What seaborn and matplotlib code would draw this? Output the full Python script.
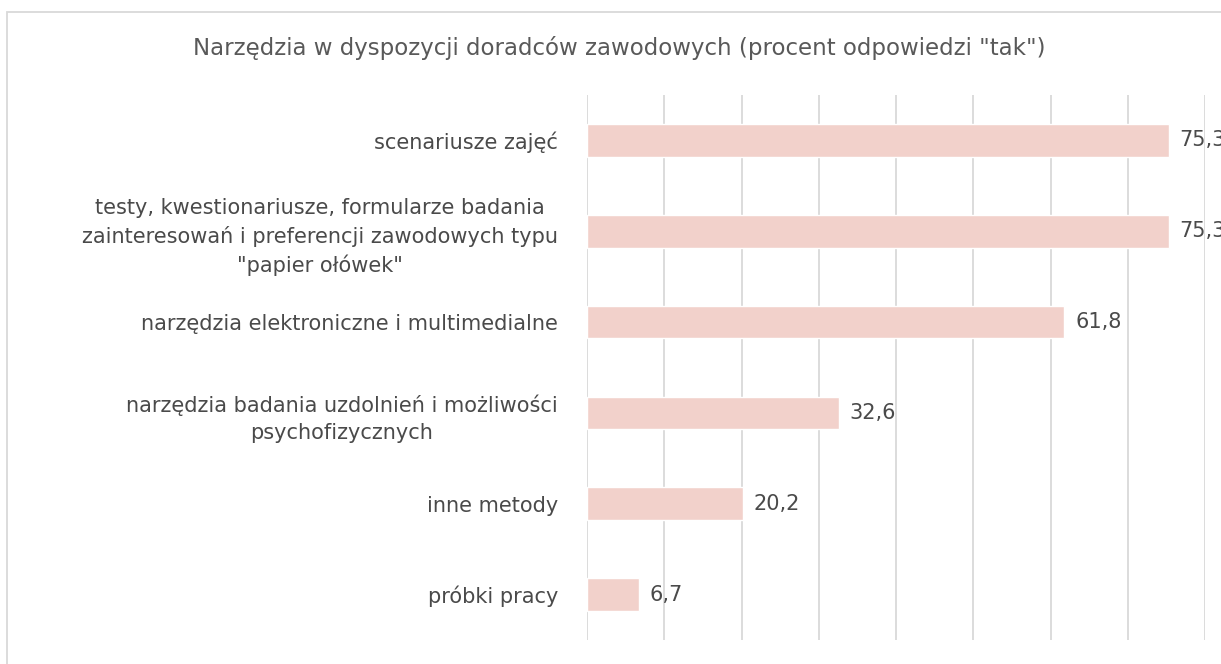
import matplotlib.pyplot as plt
import seaborn as sns
import pandas as pd
from matplotlib.patches import Rectangle

# dane z wykresu
kategorie = [
    "scenariusze zajęć",
    "testy, kwestionariusze, formularze badania\nzainteresowań i preferencji zawodowych typu\n\"papier ołówek\"",
    "narzędzia elektroniczne i multimedialne",
    "narzędzia badania uzdolnień i możliwości\npsychofizycznych",
    "inne metody",
    "próbki pracy",
]
procent_tak = [75.3, 75.3, 61.8, 32.6, 20.2, 6.7]
tytul = 'Narzędzia w dyspozycji doradców zawodowych (procent odpowiedzi "tak")'

df = pd.DataFrame({"Narzędzie": kategorie, "Procent": procent_tak})

sns.set_style("white")
plt.rcParams['font.family'] = ['DejaVu Sans']

fig = plt.figure(figsize=(12.21, 6.64), dpi=100)
ax = fig.add_axes([0.4808, 0.0361, 0.5061, 0.8209])

sns.barplot(data=df, x="Procent", y="Narzędzie", orient="h",
            color="#F2D1CB", width=0.36, saturation=1, ax=ax)

ax.set_xlim(0, 80)
ax.set_xticks(range(0, 81, 10))
ax.set_xticklabels([])
ax.tick_params(axis='x', length=0)
ax.tick_params(axis='y', length=0, pad=21)
ax.grid(axis='x', color='#D9D9D9', linewidth=1.3)
ax.set_axisbelow(True)
for s in ax.spines.values():
    s.set_visible(False)
ax.set_xlabel("")
ax.set_ylabel("")

for lab in ax.get_yticklabels():
    lab.set_fontsize(15)
    lab.set_color('#4a4a4a')
    lab.set_multialignment('center')
    lab.set_linespacing(1.45)

for i, v in enumerate(procent_tak):
    ax.text(v + 1.4, i, f"{v:.1f}".replace('.', ','), va='center', ha='left',
            fontsize=15, color='#4a4a4a', clip_on=False)

fig.text(0.507, 0.928, tytul, ha='center', va='center', fontsize=16.5, color='#595959')

# ramka wykresu
fig.patches.append(Rectangle((7 / 1221, -0.1), 1.2, 1 - 12 / 664 + 0.1,
                             transform=fig.transFigure, fill=False,
                             edgecolor='#D9D9D9', linewidth=1.3))

fig.savefig("out.png", dpi=100)
